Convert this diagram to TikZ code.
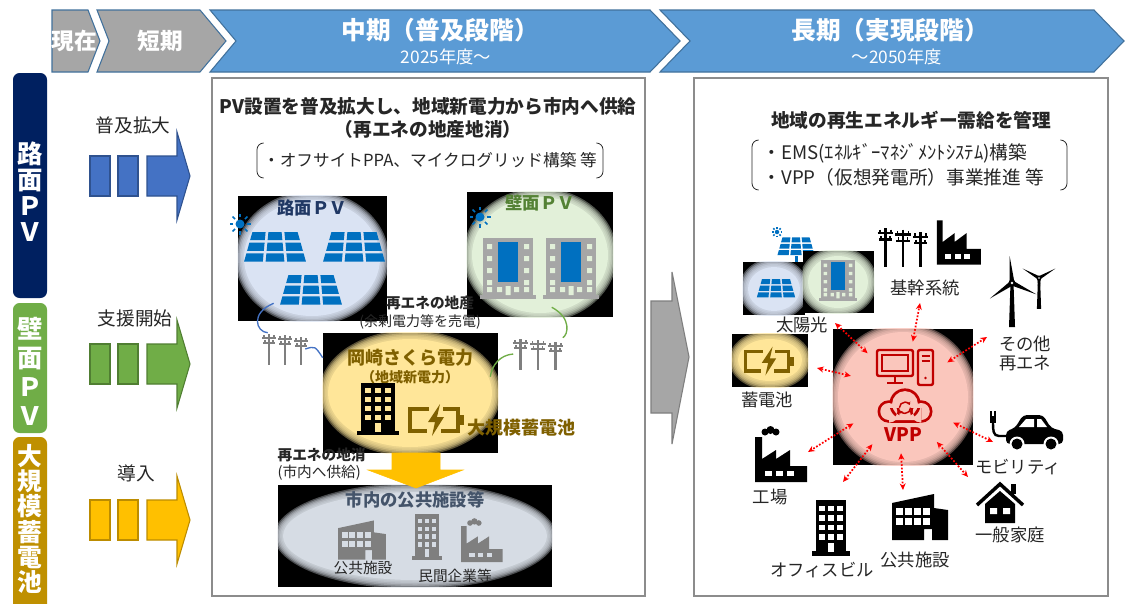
\documentclass[tikz,border=0pt]{standalone}
\usepackage{fontspec}
\setmainfont{Noto Sans CJK JP}
\usetikzlibrary{calc, positioning, arrows.meta, fit}

\definecolor{navybar}{RGB}{0,32,96}
\definecolor{greenbar}{RGB}{112,173,71}
\definecolor{goldbar}{RGB}{191,144,0}
\definecolor{chevblue}{RGB}{91,155,213}
\definecolor{chevedge}{RGB}{65,113,156}
\definecolor{chevgray}{RGB}{166,166,166}
\definecolor{arrblue}{RGB}{68,114,196}
\definecolor{arrblueedge}{RGB}{47,82,143}
\definecolor{arrgreen}{RGB}{112,173,71}
\definecolor{arrgreenedge}{RGB}{80,126,50}
\definecolor{arryellow}{RGB}{255,192,0}
\definecolor{arryellowedge}{RGB}{188,140,0}
\definecolor{panelgray}{RGB}{140,140,140}
\definecolor{textdark}{RGB}{38,38,38}
\definecolor{pvblue}{RGB}{0,112,192}
\definecolor{roadglow}{RGB}{218,227,243}
\definecolor{wallglow}{RGB}{226,240,217}
\definecolor{powerglow}{RGB}{255,230,153}
\definecolor{cityglow}{RGB}{214,220,228}
\definecolor{vppglow}{RGB}{250,198,188}
\definecolor{powergold}{RGB}{127,96,0}
\definecolor{cityink}{RGB}{68,84,106}
\definecolor{icongray}{RGB}{127,127,127}
\definecolor{bldggray}{RGB}{166,166,166}
\definecolor{roadink}{RGB}{32,56,100}
\definecolor{wallink}{RGB}{84,130,53}
\definecolor{vppred}{RGB}{192,0,0}
\definecolor{linkblue}{RGB}{68,114,196}
\definecolor{linkgreen}{RGB}{112,173,71}

\newcommand\fsz[2]{\fontsize{#1}{#2}\selectfont}
% soft-edged ellipse clipped to a black photo box
\newcommand\glow[5]{%
  \begin{scope}
    \clip (#1.south west) rectangle (#1.north east);
    \foreach \k in {0,...,5}
      \fill[#5, opacity=0.35] (#2) ellipse ({#3+4-\k*1.5} and {#4+4-\k*1.5});
    \fill[#5] (#2) ellipse ({#3-5} and {#4-5});
  \end{scope}}

\begin{document}
\begin{tikzpicture}[x=0.75pt, y=-0.75pt,
    chevron/.style={line width=0.8pt},
    chevtext/.style={text=white, font=\fsz{17}{20}\bfseries},
    stagehead/.style={text=white, font=\fsz{18.5}{22}\bfseries},
    stageyear/.style={text=white, font=\fsz{13}{15}},
    themebar/.style={rounded corners=5pt, inner sep=0pt},
    bartext/.style={text=white, align=center, inner sep=0pt},
    lbl/.style={text=textdark, font=\fsz{13}{16}, inner sep=1pt},
    smalllbl/.style={text=textdark, font=\fsz{10.5}{13}, inner sep=1pt},
    panel/.style={draw=panelgray, line width=2.2pt, inner sep=0pt},
    paneltitle/.style={text=textdark, font=\fsz{14}{17.25}\bfseries, align=center},
    note/.style={text=textdark, align=left},
    bracket/.style={draw=textdark, line width=0.6pt, rounded corners=5pt},
    photo/.style={fill=black, inner sep=0pt},
    boxtitle/.style={font=\fsz{13}{15}\bfseries, inner sep=1pt},
    hub/.style={inner sep=0pt},
    pvlink/.style={line width=1pt},
    vpplink/.style={draw=red, dash pattern=on 1.3pt off 1.3pt, line width=1.3pt,
      {Stealth[length=5pt,width=4.5pt]}-{Stealth[length=5pt,width=4.5pt]}},
    win/.style={fill=white},
    % block arrow of the left column
    pics/stagearrow/.style={code={
      \path[pic actions] (0,-20) rectangle (20,20);
      \path[pic actions] (28,-20) rectangle (48,20);
      \path[pic actions] (57,-20) -- (87,-20) -- (87,-44) -- (100,0) -- (87,44) -- (87,20) -- (57,20) -- cycle;
    }},
    pics/sunicon/.style={code={
      \fill (0,0) circle (4.5);
      \foreach \a in {0,45,...,315} \draw[line width=1.2pt] (\a:7) -- (\a:10.5);
    }},
    pics/pvgrid/.style={code={
      \foreach \row in {0,1,2}{
        \pgfmathsetmacro\ya{\row*10.7-16}
        \pgfmathsetmacro\yb{\row*10.7-16+8.2}
        \pgfmathsetmacro\wa{48+18*(\ya+16)/32}
        \pgfmathsetmacro\wb{48+18*(\yb+16)/32}
        \foreach \col in {0,1,2}
          \fill ({-\wa/2+\col*\wa/3+1.4},\ya) -- ({-\wa/2+(\col+1)*\wa/3-1.4},\ya)
            -- ({-\wb/2+(\col+1)*\wb/3-1.4},\yb) -- ({-\wb/2+\col*\wb/3+1.4},\yb) -- cycle;
      }
    }},
    pics/pvstand/.style={code={
      \pic[scale=0.6] at (0,0) {pvgrid};
      \fill (-1.5,9) rectangle (1.5,16);
      \fill (-9,15) rectangle (9,17.5);
    }},
    pics/wallbldg/.style={code={
      \fill[bldggray] (-25,-30) rectangle (25,28);
      \fill[bldggray] (-28,27) rectangle (28,31);
      \fill[pvblue] (-10,-26) rectangle (10,14);
      \foreach \y in {-24,-12,0,12}
        \fill[win] (-21,\y) rectangle (-16,\y+5) (16,\y) rectangle (21,\y+5);
      \fill[win] (-21,19) rectangle (-16,24) (16,19) rectangle (21,24)
        (-11,19) rectangle (-6,24) (6,19) rectangle (11,24) (-2.5,18) rectangle (2.5,27);
    }},
    pics/tower/.style={code={
      \fill (-17,-26) rectangle (17,23);
      \fill (-21,22) rectangle (21,26);
      \foreach \i in {-1,0,1} \foreach \j in {0,1,2,3}
        \fill[win] (\i*10-3,\j*9-21) rectangle (\i*10+3,\j*9-16);
      \fill[win] (-3,14) rectangle (3,23);
    }},
    pics/battery/.style={code={
      \draw[line width=2.4pt, line join=miter] (-7,-11) -- (-26,-11) -- (-26,11) -- (-9,11);
      \draw[line width=2.4pt, line join=miter] (7,-11) -- (22,-11) -- (22,11) -- (5,11);
      \fill (23,-5) rectangle (28,5);
      \fill (4,-16) -- (-8,2) -- (-1,2) -- (-4,16) -- (8,-3) -- (1,-3) -- cycle;
    }},
    pics/poles/.style={code={
      \foreach \pole/\ptop in {-16/-15,0/-14,16/-12}{
        \draw[line width=2.2pt] (\pole,\ptop) -- (\pole,16);
        \draw[line width=1.7pt] (\pole-7,\ptop+4) -- (\pole+7,\ptop+4) (\pole-6,\ptop+9) -- (\pole+6,\ptop+9);
        \draw[line width=1.2pt] (\pole-5,\ptop+1) -- (\pole-5,\ptop+4) (\pole+5,\ptop+1) -- (\pole+5,\ptop+4)
          (\pole-4,\ptop+6) -- (\pole-4,\ptop+9) (\pole+4,\ptop+6) -- (\pole+4,\ptop+9);
      }
    }},
    pics/factory/.style={code={
      \fill (-25,25) -- (-25,-20) -- (-18,-20) -- (-18,2) -- (-4,-7) -- (-4,2) -- (10,-7)
        -- (10,9) -- (27,9) -- (27,25) -- cycle;
      \foreach \x in {-15,-4,7} \fill[win] (\x,14) rectangle (\x+7,19);
    }},
    pics/smoke/.style={code={
      \fill (0,0) circle (3.5) (5.5,-2) circle (4) (11,0) circle (3.5);
    }},
    pics/school/.style={code={
      \fill (-28,23) -- (-28,-14) -- (14,-23) -- (14,-9) -- (28,-7) -- (28,23) -- (12,23)
        -- (12,12) -- (4,12) -- (4,23) -- cycle;
      \foreach \i in {0,...,3} \foreach \j in {0,1}
        \fill[win] (-24+\i*9,-9+\j*10) rectangle (-17+\i*9,-2+\j*10);
    }},
    pics/house/.style={code={
      \fill (11,-19) rectangle (16,-9);
      \draw[line width=2.6pt, line join=miter] (-23,2) -- (0,-19) -- (23,2);
      \fill (-15,1) -- (0,-12) -- (15,1) -- (15,20) -- (-15,20) -- cycle;
      \fill[win] (-10,5) rectangle (-3,11) (3,5) rectangle (10,11);
    }},
    pics/car/.style={code={
      \fill[rounded corners=3pt] (-22,12) -- (-22,-1) -- (-13,-4) -- (-5,-17) -- (15,-17)
        -- (23,-4) -- (35,-1) -- (35,12) -- cycle;
      \fill[win] (-9,-5) -- (-2,-13) -- (6,-13) -- (6,-5) -- cycle;
      \fill[win] (9,-13) -- (13,-13) -- (19,-5) -- (9,-5) -- cycle;
      \fill[win] (-11,12) circle (7.5) (23,12) circle (7.5);
      \fill (-11,12) circle (5.5) (23,12) circle (5.5);
      \draw[line width=1.8pt] (-22,4) -- (-29,4) .. controls (-35,4) and (-35,-2) .. (-35,-9);
      \fill (-38,-16) rectangle (-32,-9);
      \draw[line width=1.4pt] (-37,-16) -- (-37,-21) (-33,-16) -- (-33,-21);
    }},
    pics/turbine/.style={code={
      \fill (-1.5,0) -- (1.5,0) -- (3,44) -- (-3,44) -- cycle;
      \foreach \blade in {0,120,240}{
        \pgfmathsetmacro\a{#1+\blade}
        \fill ({2.5*cos(\a+90)},{-2.5*sin(\a+90)}) -- ({27*cos(\a)},{-27*sin(\a)})
          -- ({2.5*cos(\a-90)},{-2.5*sin(\a-90)}) -- cycle;
      }
      \fill (0,0) circle (3.5);
      \fill[white] (0,0) circle (1.3);
    }},
    pics/computer/.style={code={
      \draw[line width=1.8pt, rounded corners=1.5pt] (-28,-19) rectangle (8,7);
      \draw[line width=1.1pt] (-23,-14) rectangle (3,2);
      \draw[line width=1.8pt] (-10,7) -- (-10,13) (-18,14) -- (-2,14);
      \draw[line width=1.8pt, rounded corners=1.5pt] (13,-19) rectangle (28,16);
      \draw[line width=1.5pt] (16.5,-13) -- (24.5,-13) (16.5,-8) -- (24.5,-8);
      \fill (20.5,9) circle (1.4);
    }},
    pics/cloud/.style={code={
      \fill (-13,2) circle (9) (0,-4) circle (12.5) (13,2) circle (9) (-13,-1) rectangle (13,11);
      \fill[vppglow] (-13,2) circle (6.8) (0,-4) circle (10.3) (13,2) circle (6.8) (-13,-1) rectangle (13,8.8);
      \draw[line width=1.1pt, -{Stealth[length=2.2pt,width=3.2pt]}] (4.5,-1) arc (0:150:4.5);
      \draw[line width=1.1pt, -{Stealth[length=2.2pt,width=3.2pt]}] (-4.5,-1) arc (180:330:4.5);
    }},
  ]
  \useasboundingbox[fill=white] (0,0) rectangle (1126,603);

  % stage chevrons
  \filldraw[chevron, fill=chevgray, draw=chevedge] (52,10) -- (88,10) -- (100,41) -- (88,72) -- (52,72) -- cycle;
  \filldraw[chevron, fill=chevgray, draw=chevedge] (97,10) -- (200,10) -- (226,41) -- (200,72) -- (97,72) -- (109,41) -- cycle;
  \filldraw[chevron, fill=chevblue, draw=chevedge] (210,10) -- (650,10) -- (680,41) -- (650,72) -- (210,72) -- (236,41) -- cycle;
  \filldraw[chevron, fill=chevblue, draw=chevedge] (660,10) -- (1094,10) -- (1124,41) -- (1094,72) -- (660,72) -- (690,41) -- cycle;
  \node[chevtext] (now) at (74,41) {現在};
  \node[chevtext] (short) at (160,41) {短期};
  \node[stagehead] (midhead) at (440,30) {中期（普及段階）};
  \node[stageyear] (midyear) at (446,57) {2025年度～};
  \node[stagehead] (longhead) at (890,30) {長期（実現段階）};
  \node[stageyear] (longyear) at (897,57) {～2050年度};

  % theme bars
  \node[themebar, fill=navybar, fit={(13,73) (47,298)}] (roadbar) {};
  \node[themebar, fill=greenbar, fit={(13,303) (47,433)}] (wallbar) {};
  \node[themebar, fill=goldbar, fit={(13,437) (47,640)}] (storebar) {};
  \node[bartext, font=\fsz{19}{19.5}\bfseries] (roadtext) at (30,192) {路\\面\\Ｐ\\Ｖ};
  \node[bartext, font=\fsz{19}{21.75}\bfseries] (walltext) at (30,371) {壁\\面\\Ｐ\\Ｖ};
  \node[bartext, font=\fsz{18.5}{19}\bfseries] (storetext) at (30,519) {大\\規\\模\\蓄\\電\\池};

  % what happens in each theme
  \node[lbl, font=\fsz{14}{16}] (spread) at (133,125) {普及拡大};
  \node[lbl, font=\fsz{14}{16}] (support) at (135,318) {支援開始};
  \node[lbl, font=\fsz{14}{16}] (intro) at (136,473) {導入};
  \pic[fill=arrblue, draw=arrblueedge, line width=0.8pt] at (90,176) {stagearrow};
  \pic[fill=arrgreen, draw=arrgreenedge, line width=0.8pt] at (90,364) {stagearrow};
  \pic[fill=arryellow, draw=arryellowedge, line width=0.8pt] at (90,520) {stagearrow};

  % arrow from mid term to long term
  \filldraw[fill=chevgray, draw=icongray, line width=0.8pt] (651,301) -- (672,301) -- (672,272)
    -- (689,357) -- (672,444) -- (672,413) -- (651,413) -- cycle;

  \node[panel, fit={(212,78) (645,596)}] (midpanel) {};
  \node[panel, fit={(694,78) (1108,596)}] (longpanel) {};

  % ---- mid term ----
  \node[paneltitle] (midtitle) at (428,118) {PV設置を普及拡大し、地域新電力から市内へ供給\\（再エネの地産地消）};
  \node[note, font=\fsz{12.5}{15}] (midnote) at (430,160) {・オフサイトPPA、マイクログリッド構築 等};
  \draw[bracket] (263,143) -- (257,143) -- (257,178) -- (263,178);
  \draw[bracket] (597,143) -- (603,143) -- (603,178) -- (597,178);

  \node[photo, fit={(238,196) (387,321)}] (roadbox) {};
  \glow{roadbox}{312,258}{73}{63}{roadglow}
  \pic[pvblue] at (275,248) {pvgrid};
  \pic[pvblue] at (354,248) {pvgrid};
  \pic[pvblue] at (311,291) {pvgrid};
  \pic[pvblue] at (240,224) {sunicon};
  \node[boxtitle, text=roadink] (roadtitle) at (312,208) {路面ＰＶ};

  \node[photo, fit={(467,192) (613,317)}] (wallbox) {};
  \glow{wallbox}{540,255}{73}{63}{wallglow}
  \pic[win/.style={fill=wallglow}] at (508,268) {wallbldg};
  \pic[win/.style={fill=wallglow}] at (571,268) {wallbldg};
  \pic[pvblue] at (480,217) {sunicon};
  \node[boxtitle, text=wallink] (walltitle) at (540,203) {壁面ＰＶ};

  \node[smalllbl, font=\fsz{11}{13}\bfseries] (localmake) at (430,303) {再エネの地産};
  \node[smalllbl] (localsell) at (420,322) {(余剰電力等を売電)};

  \node[photo, fit={(323,333) (498,453)}] (powerbox) {};
  \glow{powerbox}{410,393}{87}{59}{powerglow}
  \pic[black, win/.style={fill=powerglow}] at (378,409) {tower};
  \pic[powergold] at (436,420) {battery};
  \node[boxtitle, text=powergold, font=\fsz{13.5}{16}\bfseries] (powertitle) at (410,358) {岡崎さくら電力};
  \node[boxtitle, text=powergold, font=\fsz{10.5}{12}\bfseries] (powersub) at (410,377) {（地域新電力）};
  \node[boxtitle, text=powergold, font=\fsz{13.5}{16}\bfseries] (storage) at (521,428) {大規模蓄電池};

  \node[hub, minimum width=30pt, minimum height=24pt] (lpoles) at (285,349) {};
  \pic[icongray] at (lpoles) {poles};
  \node[hub, minimum width=36.75pt, minimum height=24pt] (rpoles) at (538,354) {};
  \pic[icongray, xscale=1.1] at (rpoles) {poles};

  \draw[pvlink, linkblue] ($(roadbox.south west)+(36,-18)$) .. controls (250,313) and (256,332) .. ($(lpoles.north west)+(3,0)$);
  \draw[pvlink, linkblue] (lpoles.east) .. controls (315,346) .. ($(powerbox.north west)+(0,25)$);
  \draw[pvlink, linkgreen] ($(wallbox.south west)+(85,-10)$) .. controls (572,318) and (568,335) .. (rpoles.north east);
  \draw[pvlink, linkgreen] (rpoles.west) .. controls (500,355) and (492,365) .. ($(powerbox.north east)+(-8,44)$);

  \node[smalllbl, font=\fsz{11}{13}\bfseries, anchor=west] (localuse) at (276,455) {再エネの地消};
  \node[smalllbl, font=\fsz{11}{13}, anchor=west] (citysupply) at (276,473) {(市内へ供給)};

  \node[photo, fit={(278,485) (552,587)}] (citybox) {};
  \glow{citybox}{415,536}{137}{49}{cityglow}
  \pic[icongray, scale=0.85, win/.style={fill=cityglow}] at (362,540) {school};
  \pic[icongray, xscale=0.72, yscale=0.87, win/.style={fill=cityglow}] at (427,537) {tower};
  \pic[icongray, scale=0.8, win/.style={fill=cityglow}] at (481,542) {factory};
  \pic[icongray, scale=0.8] at (470,523) {smoke};
  \node[boxtitle, text=cityink] (citytitle) at (415,500) {市内の公共施設等};
  \node[smalllbl, font=\fsz{11}{13}] (publicmid) at (363,568) {公共施設};
  \node[smalllbl, font=\fsz{11}{13}] (privatemid) at (455,576) {民間企業等};

  \filldraw[fill=arryellow, draw=arryellow] (392,453) -- (440,453) -- (440,470) -- (463,470)
    -- (416,488) -- (368,470) -- (392,470) -- cycle;

  % ---- long term ----
  \node[paneltitle] (longtitle) at (911,120) {地域の再生エネルギー需給を管理};
  \node[note, font=\fsz{14}{18.75}, anchor=west] (longnote) at (758,165) {・EMS(ｴﾈﾙｷﾞｰﾏﾈｼﾞﾒﾝﾄｼｽﾃﾑ)構築\\・VPP（仮想発電所）事業推進 等};
  \draw[bracket] (758,140) -- (752,140) -- (752,190) -- (758,190);
  \draw[bracket] (1061,140) -- (1067,140) -- (1067,190) -- (1061,190);

  \pic[pvblue, scale=0.5] at (777,232) {sunicon};
  \pic[pvblue] at (796,247) {pvstand};
  \node[photo, fit={(743,262) (805,315)}] (solarphoto) {};
  \glow{solarphoto}{774,289}{31}{27}{roadglow}
  \pic[pvblue, scale=0.62] at (776,289) {pvgrid};
  \node[photo, fit={(803,251) (874,313)}] (wallphoto) {};
  \glow{wallphoto}{838,282}{35}{31}{wallglow}
  \pic[scale=0.68, win/.style={fill=wallglow}] at (838,280) {wallbldg};
  \node[lbl] (solarlbl) at (802,325) {太陽光};

  \node[photo, fit={(732,334) (808,387)}] (battphoto) {};
  \glow{battphoto}{770,360}{37}{26}{powerglow}
  \pic[powergold, scale=0.9] at (769,361) {battery};
  \node[lbl] (battlbl) at (767,400) {蓄電池};

  \node[photo, fit={(833,329) (973,465)}] (vppphoto) {};
  \glow{vppphoto}{903,397}{70}{70}{vppglow}
  \pic[vppred] at (905,369) {computer};
  \pic[vppred, scale=1.25] at (905,409) {cloud};
  \node[font=\fsz{14}{16}\bfseries, text=vppred, inner sep=1pt] (vpptext) at (903,435) {VPP};
  \node[circle, minimum size=84pt, inner sep=0pt] (vpp) at (903,397) {};

  \pic[black, xscale=1.1, yscale=1.25] at (903,247) {poles};
  \pic[black, xscale=0.85, yscale=0.98] at (958,240) {factory};
  \node[lbl] (gridlbl) at (925,288) {基幹系統};

  \pic[black] at (1012,283) {turbine=95};
  \pic[black, scale=0.7] at (1039,278) {turbine=150};
  \node[lbl, align=center, font=\fsz{13}{14.25}] (otherlbl) at (1025,353) {その他\\再エネ};

  \pic[black] at (780,457) {factory};
  \pic[black] at (765,432) {smoke};
  \node[lbl] (factorylbl) at (770,497) {工場};

  \pic[black, xscale=0.9, yscale=1.06] at (831,528) {tower};
  \node[lbl] (officelbl) at (822,570) {オフィスビル};

  \pic[black] at (920,517) {school};
  \node[lbl] (publbl) at (915,560) {公共施設};

  \pic[black] at (1000,503) {house};
  \node[lbl] (homelbl) at (1010,535) {一般家庭};

  \pic[black] at (1028,432) {car};
  \node[lbl] (mobilbl) at (1018,467) {モビリティ};

  % VPP links
  \coordinate (solarend) at (835,323);
  \coordinate (gridend) at (920,303);
  \coordinate (otherend) at (987,337);
  \coordinate (battend) at (817,368);
  \coordinate (factoryend) at (808,452);
  \coordinate (officeend) at (843,482);
  \coordinate (pubend) at (903,490);
  \coordinate (homeend) at (968,477);
  \coordinate (mobiend) at (993,442);
  \draw[vpplink] (vpp.129) -- (solarend);
  \draw[vpplink] (vpp.80) -- (gridend);
  \draw[vpplink] (vpp.38) -- (otherend);
  \draw[vpplink] (vpp.158) -- (battend);
  \draw[vpplink] (vpp.208) -- (factoryend);
  \draw[vpplink] (vpp.237) -- (officeend);
  \draw[vpplink] (vpp.268) -- (pubend);
  \draw[vpplink] (vpp.307) -- (homeend);
  \draw[vpplink] (vpp.333) -- (mobiend);
\end{tikzpicture}
\end{document}
